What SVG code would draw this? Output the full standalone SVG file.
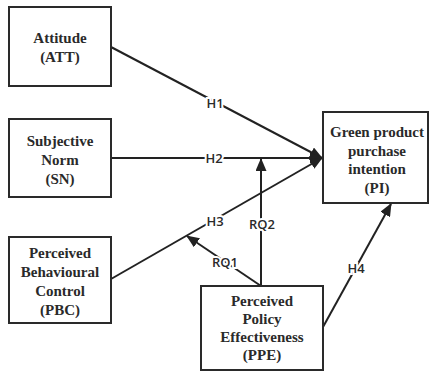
<svg xmlns="http://www.w3.org/2000/svg" width="430" height="372" viewBox="0 0 430 372">
<style>
.box{fill:#fff;stroke:#2a2a2a;stroke-width:2}
.nt{font-family:"Liberation Serif","Times New Roman",serif;font-weight:bold;font-size:15px;fill:#2a2a2a;text-anchor:middle}
.ln{stroke:#222;stroke-width:2;fill:none;marker-end:url(#ah)}
.lb{font-family:"Open Sans","Noto Sans",sans-serif;font-weight:600;font-size:13px;fill:#2a2a2a;text-anchor:middle;dominant-baseline:central;stroke:#fff;stroke-width:4;paint-order:stroke}
</style>
<defs>
<marker id="ah" markerUnits="userSpaceOnUse" markerWidth="13" markerHeight="11" refX="12" refY="5.5" orient="auto">
<path d="M0,0 L13,5.5 L0,11 z" fill="#222"/>
</marker>
</defs>
<rect width="430" height="372" fill="#fff"/>
<g id="connectors">
<line class="ln" x1="111" y1="47" x2="322" y2="158"/>
<line class="ln" x1="111" y1="158" x2="322" y2="158"/>
<line class="ln" x1="111" y1="279" x2="322" y2="158"/>
<line class="ln" x1="323" y1="327" x2="391" y2="204"/>
<line class="ln" x1="261" y1="286" x2="261" y2="159"/>
<line class="ln" x1="261" y1="286" x2="187" y2="236"/>
<text class="lb" x="215" y="103">H1</text>
<text class="lb" x="214" y="158">H2</text>
<text class="lb" x="215" y="221">H3</text>
<text class="lb" x="356" y="268">H4</text>
<text class="lb" x="262" y="224">RQ2</text>
<text class="lb" x="225" y="262">RQ1</text>
</g>
<g id="att">
<rect class="box" x="9" y="7" width="102" height="79"/>
<text class="nt" x="60" y="43">Attitude</text>
<text class="nt" x="60" y="62">(ATT)</text>
</g>
<g id="sn">
<rect class="box" x="9" y="119" width="102" height="78"/>
<text class="nt" x="60" y="146">Subjective</text>
<text class="nt" x="60" y="165">Norm</text>
<text class="nt" x="60" y="184">(SN)</text>
</g>
<g id="pbc">
<rect class="box" x="9" y="237" width="102" height="86"/>
<text class="nt" x="60" y="258">Perceived</text>
<text class="nt" x="60" y="277">Behavioural</text>
<text class="nt" x="60" y="296">Control</text>
<text class="nt" x="60" y="315">(PBC)</text>
</g>
<g id="pi">
<rect class="box" x="323" y="112" width="105" height="91"/>
<text class="nt" x="377" y="137">Green product</text>
<text class="nt" x="377" y="156">purchase</text>
<text class="nt" x="377" y="174">intention</text>
<text class="nt" x="377" y="193">(PI)</text>
</g>
<g id="ppe">
<rect class="box" x="201" y="286" width="122" height="84"/>
<text class="nt" x="262" y="306">Perceived</text>
<text class="nt" x="262" y="324">Policy</text>
<text class="nt" x="262" y="342">Effectiveness</text>
<text class="nt" x="262" y="360">(PPE)</text>
</g>
</svg>
